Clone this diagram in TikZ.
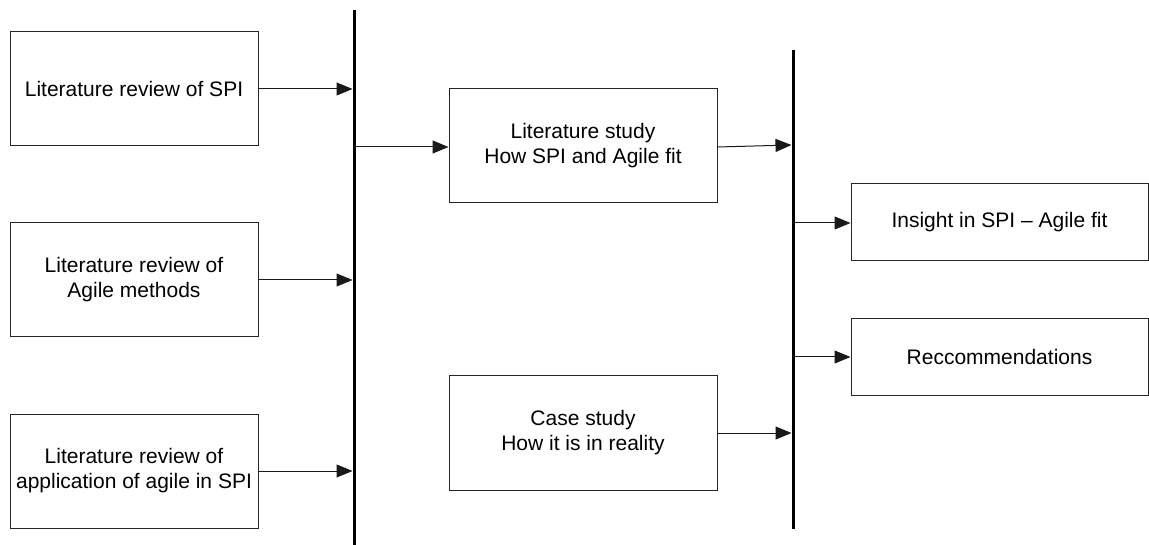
\documentclass[tikz,border=0pt]{standalone}
\usepackage{fontspec}
\setmainfont{Liberation Sans}
\usetikzlibrary{arrows.meta}
\begin{document}
\begin{tikzpicture}[x=1pt,y=-1pt,
  stepbox/.style={draw=black!85,line width=1pt,rectangle,inner sep=0pt,
    align=center,font=\fontsize{21}{25}\selectfont},
  bar/.style={line width=3pt,black},
  link/.style={line width=1pt,black!90,-{Triangle[length=16pt,width=13pt]}}]
\useasboundingbox (0,0) rectangle (1149,545);

% collection bars
\coordinate (bar1top) at (354,10);
\coordinate (bar1bot) at (354,545);
\coordinate (bar2top) at (793,50);
\coordinate (bar2bot) at (793,529);
\draw[bar] (bar1top) -- (bar1bot);
\draw[bar] (bar2top) -- (bar2bot);

% input reviews
\node[stepbox,minimum width=248pt,minimum height=114pt] (rev1) at (134,89)
  {Literature review of SPI};
\node[stepbox,minimum width=248pt,minimum height=114pt] (rev2) at (134,280)
  {Literature review of\\Agile methods};
\node[stepbox,minimum width=248pt,minimum height=114pt] (rev3) at (134,471)
  {Literature review of\\application of agile in SPI};

% studies
\node[stepbox,minimum width=268pt,minimum height=114pt] (lit) at (583,146)
  {Literature study\\How SPI and Agile fit};
\node[stepbox,minimum width=268pt,minimum height=114pt] (case) at (583,433)
  {Case study\\How it is in reality};

% results
\node[stepbox,minimum width=297pt,minimum height=77pt] (ins) at (999.5,222.5)
  {Insight in SPI -- Agile fit};
\node[stepbox,minimum width=297pt,minimum height=76pt] (rec) at (999.5,357)
  {Reccommendations};

% junction points on the bars
\coordinate (j1) at (352.5,89);
\coordinate (j2) at (352.5,280);
\coordinate (j3) at (352.5,471);
\coordinate (j4) at (354,147);
\coordinate (j5) at (791.5,145);
\coordinate (j6) at (791.5,433);
\coordinate (j7) at (793,223);
\coordinate (j8) at (793,357);

\draw[link] (rev1.east |- j1) -- (j1);
\draw[link] (rev2.east |- j2) -- (j2);
\draw[link] (rev3.east |- j3) -- (j3);
\draw[link] (j4) -- (lit.west |- j4);
\draw[link] (lit.east |- j4) -- (j5);
\draw[link] (case.east |- j6) -- (j6);
\draw[link] (j7) -- (ins.west |- j7);
\draw[link] (j8) -- (rec.west |- j8);
\end{tikzpicture}
\end{document}
